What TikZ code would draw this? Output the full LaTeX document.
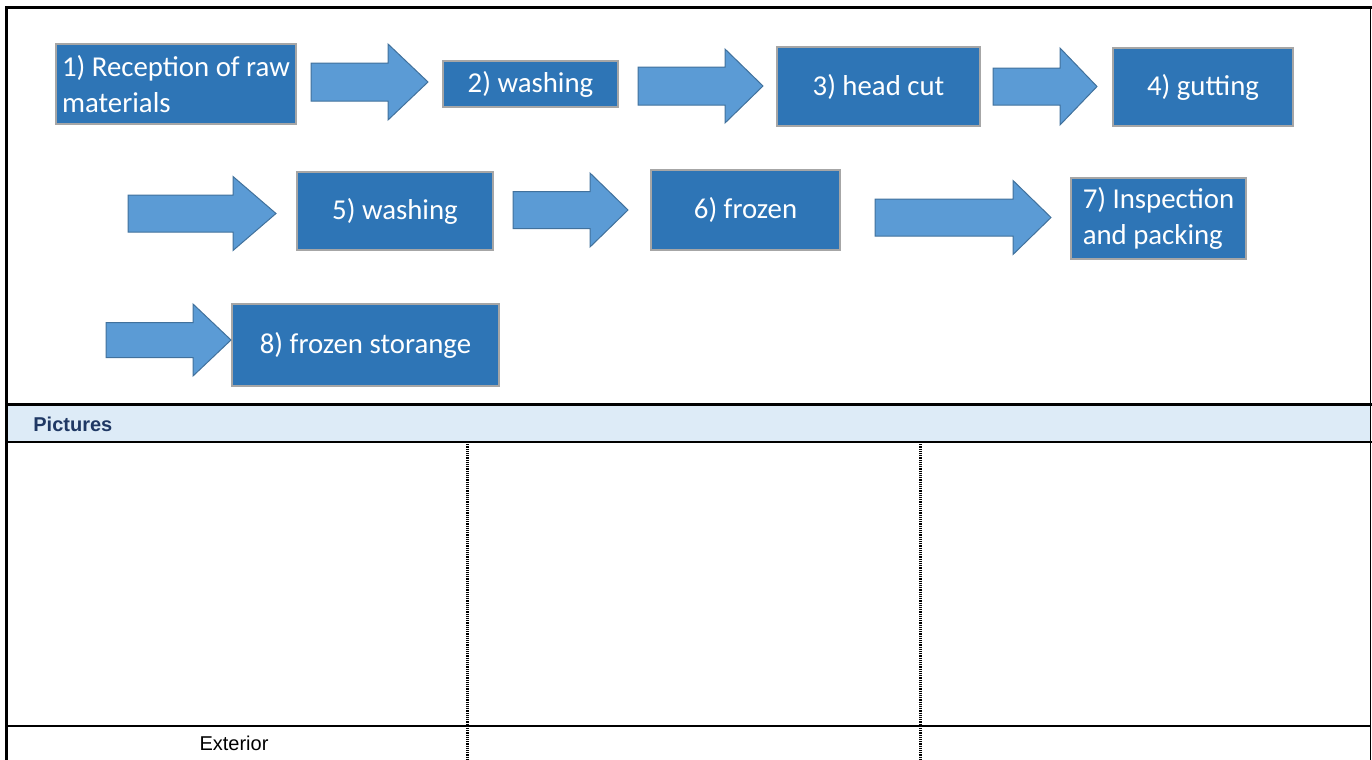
\documentclass[tikz,border=0pt]{standalone}
\usepackage{fontspec}
\setmainfont{Carlito}
\newfontfamily\arialfont{Liberation Sans}
\usepackage{tikz}
\definecolor{boxblue}{HTML}{2E75B6}
\definecolor{boxedge}{HTML}{A6A6A6}
\definecolor{arrowblue}{HTML}{5B9BD5}
\definecolor{arrowedge}{HTML}{41719C}
\definecolor{bandblue}{HTML}{DDEBF7}
\definecolor{navy}{HTML}{1F3864}
\newcommand{\boxfont}{\fontsize{14.4}{18}\selectfont}
% block arrow: start x, tip x, head base x, centre y, shaft half, head half
\newcommand{\flowarrow}[6]{\draw[arrowshape] (#1,{#4-#5}) -- (#3,{#4-#5}) -- (#3,{#4-#6})
        -- (#2,#4) -- (#3,{#4+#6}) -- (#3,{#4+#5}) -- (#1,{#4+#5}) -- cycle;}

\begin{document}
\begin{tikzpicture}[x=0.5pt,y=-0.5pt,
        stepbox/.style={draw=boxedge, line width=.6pt, fill=boxblue, text=white,
                align=left, inner sep=1pt, font=\boxfont},
        arrowshape/.style={draw=arrowedge, line width=.5pt, fill=arrowblue}]
        \useasboundingbox (0,0) rectangle (1372,760);

          % process steps
        \node (s1) at (176,84) [stepbox, minimum width=120pt, minimum height=40pt] {1) Reception of raw\\materials};
        \node (s2) at (530.5,84) [stepbox, minimum width=87.5pt, minimum height=23pt] {2) washing};
        \node (s3) at (878.5,86.5) [stepbox, minimum width=101.5pt, minimum height=39.5pt] {3) head cut};
        \node (s4) at (1203,87) [stepbox, minimum width=90pt, minimum height=39pt] {4) gutting};
        \node (s5) at (395,211) [stepbox, minimum width=98pt, minimum height=39pt] {5) washing};
        \node (s6) at (745.5,210) [stepbox, minimum width=94.5pt, minimum height=40pt] {6) frozen};
        \node (s7) at (1158.5,218.5) [stepbox, minimum width=87.5pt, minimum height=40.5pt] {7) Inspection\\and packing};
        \node (s8) at (365.5,345) [stepbox, minimum width=133.5pt, minimum height=41pt] {8) frozen storange};

          % arrows between steps
        \flowarrow{311}{428}{388}{82}{19}{38}
        \flowarrow{638}{763}{725}{86}{19}{37}
        \flowarrow{993}{1097}{1060}{86.5}{18.5}{38.5}
        \flowarrow{128}{276}{233}{213.5}{18.5}{37}
        \flowarrow{513}{628}{590}{210}{18.5}{37}
        \flowarrow{875}{1051}{1013}{217.5}{18.5}{37}
        \flowarrow{106}{231}{193}{340}{17.5}{36}

          % frame and picture table
        \fill[bandblue] (6.5,404.5) rectangle (1370,442);
        \draw[line width=1.5pt] (6.5,760) -- (6.5,7.5) -- (1372,7.5);
        \draw[line width=.5pt] (1370,7.5) -- (1370,760);
        \draw[line width=1.4pt] (6.5,404.5) -- (1372,404.5) (6.5,442) -- (1372,442);
        \draw[line width=.8pt] (6.5,726) -- (1370,726);
        \draw[line width=1.5pt, dash pattern=on .6pt off .5pt] (467,442) -- (467,760) (920,442) -- (920,760);

        \node (pics) at (33,424) [anchor=west, inner sep=0pt, text=navy, font=\arialfont\bfseries\fontsize{10}{12}\selectfont] {Pictures};
        \node (ext) at (234,743) [inner sep=0pt, font=\arialfont\fontsize{10}{12}\selectfont] {Exterior};
        \end{tikzpicture}
\end{document}
